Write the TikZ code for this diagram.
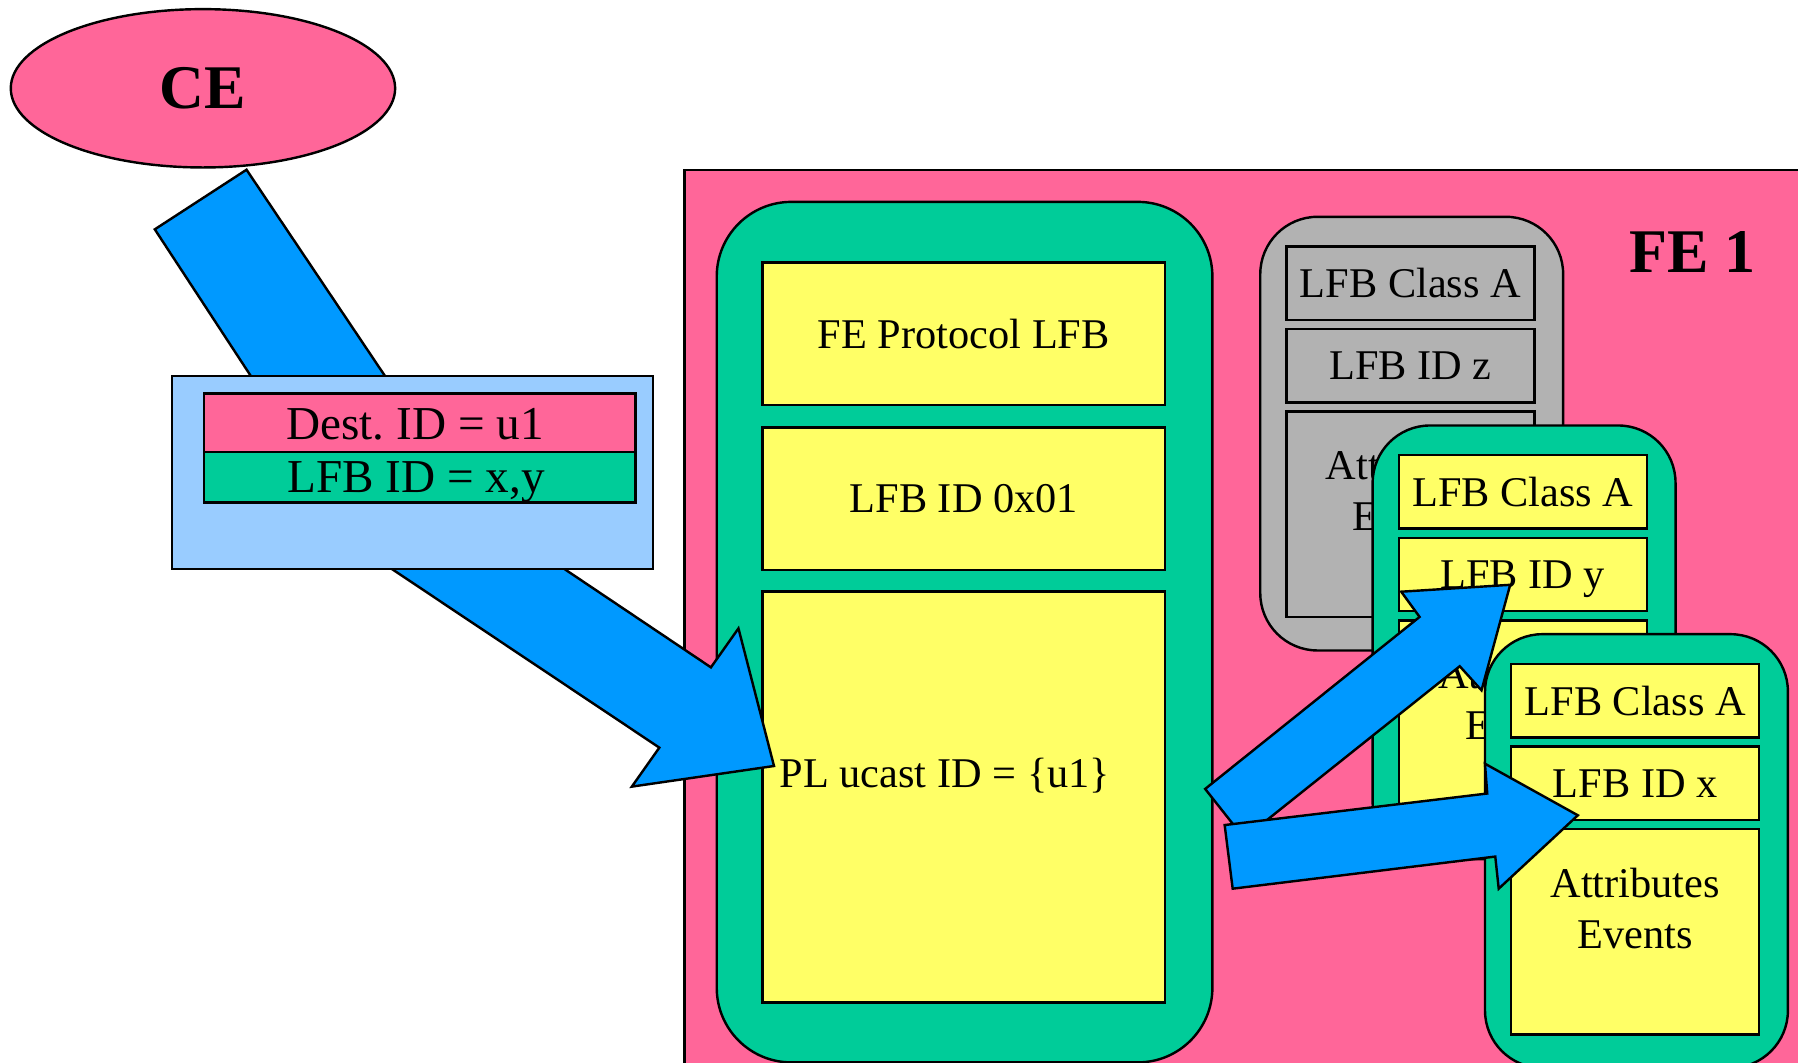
\documentclass[tikz,border=0pt]{standalone}
\usepackage{fontspec}
\setmainfont{Liberation Serif}
\usepackage{tikz}
\usetikzlibrary{shapes.geometric}
\definecolor{fepink}{HTML}{FF6699}
\definecolor{lfbgreen}{HTML}{00CC99}
\definecolor{lfbyellow}{HTML}{FFFF66}
\definecolor{lfbgray}{HTML}{B2B2B2}
\definecolor{flowblue}{HTML}{0099FF}
\definecolor{msgblue}{HTML}{99CCFF}
\frenchspacing

\begin{document}
\begin{tikzpicture}[x=0.01cm,y=-0.01cm,line width=0.6pt,
                    every node/.style={inner sep=0pt,font=\fontsize{10.5}{12.6}\selectfont}]
\tikzstyle{slot}=[draw=black,fill=lfbyellow,minimum width=2.16cm,minimum height=0.64cm,text depth=0pt]
\tikzstyle{holder}=[draw=black,fill=lfbgreen,rounded corners=0.5cm,anchor=north west,
                    minimum width=2.64cm,minimum height=3.78cm]
\tikzstyle{flow}=[draw=black,fill=flowblue]
\tikzstyle{big}=[font=\fontsize{15.4}{18}\selectfont\bfseries]
\tikzstyle{msgrow}=[draw=black,anchor=north west,minimum width=3.76cm,text depth=0pt,
                    font=\fontsize{11.7}{14}\selectfont]
\useasboundingbox (0,0) rectangle (1568,927);
\clip (0,0) rectangle (1568,927);

% control element
\node[ellipse,draw,fill=fepink,minimum width=3.35cm,minimum height=1.38cm,big] (ce) at (177,77) {CE};

% forwarding element
\node[draw,fill=fepink,anchor=north west,minimum width=10cm,minimum height=8cm] (fe) at (596,147) {};
\node[big] (fename) at (1476,220) {FE 1};

% protocol LFB
\node[holder,rounded corners=0.65cm,minimum width=4.32cm,minimum height=7.5cm] (proto) at (624,175) {};
\node[slot,minimum width=3.51cm,minimum height=1.24cm] (protoname) at (840.5,291) {FE Protocol LFB};
\node[slot,minimum width=3.51cm,minimum height=1.24cm] (protoid) at (840.5,435) {LFB ID 0x01};
\node[slot,minimum width=3.51cm,minimum height=3.58cm] (protoattr) at (840.5,695) {};
\node (ucast) at (824,676) {PL ucast ID = \{u1\}};

% message from CE
\path[flow] (135,200) -- (215,148) -- (413,443) -- (620,582) -- (644,548) -- (675,668)
            -- (551,686) -- (575,652) -- (319,481) -- cycle;
\node[draw,fill=msgblue,anchor=north west,minimum width=4.19cm,minimum height=1.68cm] (msg) at (149,327) {};
\node[msgrow,fill=fepink,minimum height=0.51cm] (dest) at (177,342) {};
\node[msgrow,fill=lfbgreen,minimum height=0.44cm] (lfbids) at (177,393) {};
\node[font=\fontsize{11.7}{14}\selectfont,text depth=0pt] (desttext) at (362,370) {Dest. ID = u1};
\node[font=\fontsize{11.7}{14}\selectfont,text depth=0pt] (idstext) at (363,416) {LFB ID = x,y};

% LFB z
\node[holder,fill=lfbgray] (lfbz) at (1098,188) {};
\node[slot,fill=lfbgray] (zclass) at (1230,247) {LFB Class A};
\node[slot,fill=lfbgray] (zid) at (1230,319) {LFB ID z};
\node[slot,fill=lfbgray,minimum height=1.79cm] (zattr) at (1230,448.5) {};
\node[align=center] (zattrtext) at (1230,428) {Attributes\\Events};

% LFB y
\node[holder] (lfby) at (1196,370) {};
\node[slot] (yclass) at (1328,429) {LFB Class A};
\node[slot] (yid) at (1328,501) {LFB ID y};
\node[slot,minimum height=1.79cm] (yattr) at (1328,630.5) {};
\node[align=center] (yattrtext) at (1328,610) {Attributes\\Events};

% LFB x
\node[holder] (lfbx) at (1294,552) {};
\node[slot] (xclass) at (1426,611) {LFB Class A};
\node[slot] (xid) at (1426,683) {LFB ID x};
\node[slot,minimum height=1.79cm] (xattr) at (1426,812.5) {};
\node[align=center] (xattrtext) at (1426,792) {Attributes\\Events};

% delivery to LFB y and LFB x
\path[flow] (1051,688) -- (1238,538) -- (1222,516) -- (1317,510) -- (1292,602)
            -- (1273,581) -- (1085,731) -- cycle;
\path[flow] (1068,719.5) -- (1297,692) -- (1295,666) -- (1376,711) -- (1307,775)
            -- (1304,747) -- (1075,775) -- cycle;
\end{tikzpicture}
\end{document}
